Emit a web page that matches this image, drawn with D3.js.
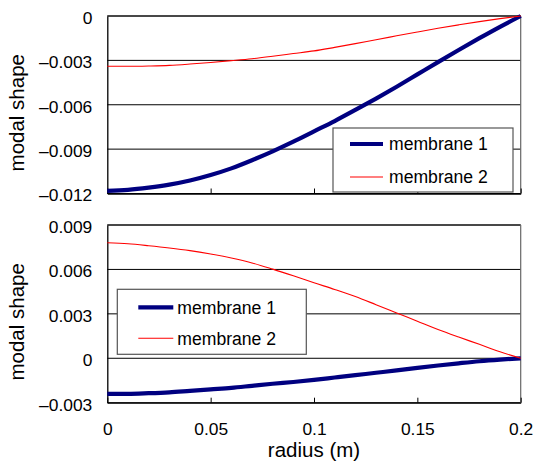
<!DOCTYPE html>
<html>
<head>
<meta charset="utf-8">
<script src="https://cdn.jsdelivr.net/npm/d3@7"></script>
<style>
  html, body { margin: 0; padding: 0; background: #fff; }
  svg { display: block; font-family: "Liberation Sans", Arial, sans-serif; }
</style>
</head>
<body>
<svg id="chart" width="535" height="463"></svg>
<script>
// Radius positions (m) shared by every series
const radius = [0, 0.01, 0.02, 0.03, 0.04, 0.05, 0.06, 0.07, 0.08, 0.09, 0.1,
                0.11, 0.12, 0.13, 0.14, 0.15, 0.16, 0.17, 0.18, 0.19, 0.2];

// Upper panel: first mode
const upperMembrane1 = [-0.01182, -0.01175, -0.0116, -0.0114, -0.01112, -0.01075, -0.0103, -0.00975,
                        -0.00915, -0.0085, -0.0078, -0.0071, -0.00635, -0.00558, -0.00478, -0.00395,
                        -0.00312, -0.0023, -0.0015, -0.00073, 0];
const upperMembrane2 = [-0.0034, -0.0034, -0.00338, -0.00334, -0.00325, -0.00314, -0.00302, -0.00289,
                        -0.00272, -0.00254, -0.00236, -0.00212, -0.00187, -0.0016, -0.00134, -0.00108,
                        -0.00083, -0.0006, -0.00038, -0.00018, 0];

// Lower panel: second mode
const lowerMembrane1 = [-0.0024, -0.0024, -0.00236, -0.0023, -0.0022, -0.0021, -0.0020, -0.00186,
                        -0.00172, -0.0016, -0.00146, -0.0013, -0.00114, -0.00098, -0.00082, -0.00065,
                        -0.00049, -0.00034, -0.0002, -0.00009, 0];
const lowerMembrane2 = [0.0078, 0.00773, 0.0076, 0.00745, 0.00727, 0.00704, 0.00677, 0.00644,
                        0.00602, 0.00557, 0.0051, 0.00465, 0.00417, 0.00362, 0.00306, 0.0025,
                        0.00194, 0.00143, 0.00094, 0.00044, 0];

const seriesNames = ["membrane 1", "membrane 2"];

// Axis ticks
const xTicks = [0, 0.05, 0.1, 0.15, 0.2];
const xTickLabels = ["0", "0.05", "0.1", "0.15", "0.2"];
const upperYTicks = [-0.012, -0.009, -0.006, -0.003, 0];
const upperYTickLabels = ["\u20130.012", "\u20130.009", "\u20130.006", "\u20130.003", "0"];
const lowerYTicks = [-0.003, 0, 0.003, 0.006, 0.009];
const lowerYTickLabels = ["\u20130.003", "0", "0.003", "0.006", "0.009"];

const xTitle = "radius (m)";
const yTitle = "modal shape";

const svg = d3.select("#chart");
const plotLeft = 107.3, plotRight = 520.7;
const x = d3.scaleLinear().domain([0, 0.2]).range([plotLeft, plotRight]);

const styles = [
  { color: "#000080", width: 4.2 },
  { color: "#ff0000", width: 1.1 }
];

function drawPanel(cfg) {
  const y = d3.scaleLinear().domain(cfg.yDomain).range([cfg.bottom, cfg.top]);
  const g = svg.append("g");

  // gridlines
  g.selectAll("line.grid")
    .data(cfg.yTicks)
    .join("line")
    .attr("x1", plotLeft).attr("x2", plotRight)
    .attr("y1", d => y(d)).attr("y2", d => y(d))
    .attr("stroke", "#000").attr("stroke-width", 1);

  // plot frame: top and right edges
  g.append("line").attr("x1", plotLeft).attr("x2", plotRight)
    .attr("y1", cfg.top).attr("y2", cfg.top).attr("stroke", "#111").attr("stroke-width", 1.2);
  g.append("line").attr("x1", plotRight).attr("x2", plotRight)
    .attr("y1", cfg.top).attr("y2", cfg.bottom).attr("stroke", "#666").attr("stroke-width", 1.2);

  // y axis
  const yAxis = d3.axisLeft(y)
    .tickValues(cfg.yTicks)
    .tickFormat((d, i) => cfg.yLabels[i])
    .tickSize(0).tickPadding(15);
  const ya = g.append("g").attr("transform", `translate(${plotLeft},0)`).call(yAxis);
  ya.select(".domain").attr("stroke", "#000").attr("stroke-width", 1.3);
  ya.selectAll("text").attr("font-size", 17.4).attr("fill", "#000").attr("dy", "0.42em");

  // x axis with inward ticks
  const xAxis = d3.axisBottom(x)
    .tickValues(xTicks)
    .tickFormat((d, i) => cfg.showXLabels ? xTickLabels[i] : "")
    .tickSizeInner(-5).tickSizeOuter(0).tickPadding(20);
  const xa = g.append("g").attr("transform", `translate(0,${cfg.bottom})`).call(xAxis);
  xa.select(".domain").attr("stroke", "#000").attr("stroke-width", 1.3);
  xa.selectAll(".tick line").attr("stroke", "#000").attr("stroke-width", 1);
  xa.selectAll("text").attr("font-size", 17.4).attr("fill", "#000");

  // y title
  g.append("text")
    .attr("transform", `translate(24,${(cfg.top + cfg.bottom) / 2 + 8}) rotate(-90)`)
    .attr("text-anchor", "middle")
    .attr("font-size", 20.5)
    .attr("fill", "#000")
    .text(yTitle);

  // series lines
  const line = d3.line()
    .x((d, i) => x(radius[i]))
    .y(d => y(d))
    .curve(d3.curveMonotoneX);
  cfg.series.forEach((vals, k) => {
    g.append("path")
      .datum(vals)
      .attr("d", line)
      .attr("fill", "none")
      .attr("stroke", styles[k].color)
      .attr("stroke-width", styles[k].width)
      .attr("stroke-linejoin", "round");
  });

  // legend
  const L = cfg.legend;
  const lg = g.append("g").attr("transform", `translate(${L.x},${L.y})`);
  lg.append("rect").attr("width", L.w).attr("height", L.h)
    .attr("fill", "#fff").attr("stroke", "#555").attr("stroke-width", 1.2);
  seriesNames.forEach((name, k) => {
    const ry = L.rows[k];
    lg.append("line")
      .attr("x1", L.sx).attr("x2", L.sx + L.sl)
      .attr("y1", ry).attr("y2", ry)
      .attr("stroke", styles[k].color).attr("stroke-width", styles[k].width);
    lg.append("text")
      .attr("x", L.tx).attr("y", ry).attr("dy", "0.36em")
      .attr("font-size", 17.6).attr("fill", "#000")
      .text(name);
  });
}

drawPanel({
  top: 16, bottom: 193.5,
  yDomain: [-0.012, 0],
  yTicks: upperYTicks, yLabels: upperYTickLabels,
  series: [upperMembrane1, upperMembrane2],
  showXLabels: false,
  legend: { x: 333, y: 128, w: 180, h: 64, sx: 17, sl: 33, tx: 56, rows: [16, 49] }
});

drawPanel({
  top: 225, bottom: 402.7,
  yDomain: [-0.003, 0.009],
  yTicks: lowerYTicks, yLabels: lowerYTickLabels,
  series: [lowerMembrane1, lowerMembrane2],
  showXLabels: true,
  legend: { x: 117.3, y: 289.3, w: 189, h: 65, sx: 21, sl: 35, tx: 60, rows: [18, 49] }
});

// x axis title
svg.append("text")
  .attr("x", (plotLeft + plotRight) / 2)
  .attr("y", 457)
  .attr("text-anchor", "middle")
  .attr("font-size", 20.5)
  .attr("fill", "#000")
  .text(xTitle);
</script>
</body>
</html>
